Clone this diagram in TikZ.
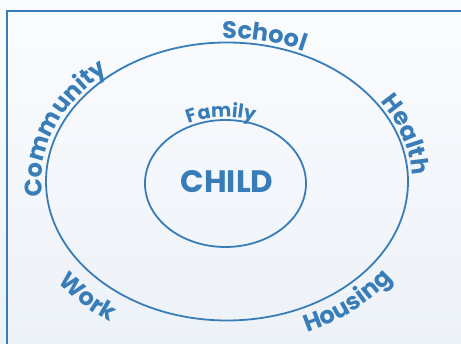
\documentclass[tikz,border=0pt]{standalone}
\usepackage{fontspec}
\usepackage{tikz}
\usetikzlibrary{decorations.text,positioning}
\newfontfamily\ringfamily{Poppins}
\definecolor{ringblue}{RGB}{56,125,184}
\definecolor{paperhi}{RGB}{251,252,254}
\definecolor{paperlo}{RGB}{237,242,248}
\newcommand\ringfont{\ringfamily\bfseries\fontsize{24}{26}\selectfont\color{ringblue}}
\newcommand\famfont{\ringfamily\bfseries\fontsize{19}{21}\selectfont\color{ringblue}}

\begin{document}
\begin{tikzpicture}[
    x=1pt, y=1pt,
    ring/.style={
        draw=ringblue,
        line width=1.8pt
    },
    ringtext/.style={
        decorate,
        decoration={text along path, text align=center, text={#1}}
    },
    core/.style={
        font=\ringfamily\bfseries\fontsize{31}{33}\selectfont,
        text=ringblue
    }
]

% Page and frame
\useasboundingbox (0,0) rectangle (461,344);
\clip (0,0) rectangle (461,344);
\shade[top color=paperhi, bottom color=paperlo] (0,0) rectangle (461,344);
\draw[ringblue, line width=2.2pt] (7,-10) rectangle (475,333);

% Centres of the two rings
\coordinate (outer) at (227,162.5);
\coordinate (inner) at (225.5,160.5);

% Rings
\draw[ring] (outer) ellipse [x radius=181, y radius=139];
\draw[ring] (inner) ellipse [x radius=80.5, y radius=63.5];

% Middle
\node[core] (child) at (227,162) {CHILD};

% Labels round the inner ring
\path[ringtext={|\famfont|Family}]
    (inner) ++(130:83.5 and 66.5) arc[start angle=130, end angle=56, x radius=83.5, y radius=66.5];

% Labels round the outer ring (top half reads clockwise)
\path[ringtext={|\ringfont|School}]
    (outer) ++(107:185 and 143) arc[start angle=107, end angle=49, x radius=185, y radius=143];
\path[ringtext={|\ringfont|Community}]
    (outer) ++(187:185 and 143) arc[start angle=187, end angle=129, x radius=185, y radius=143];
\path[ringtext={|\ringfont|Health}]
    (outer) ++(38:185 and 143) arc[start angle=38, end angle=-2, x radius=185, y radius=143];

% bottom half reads anticlockwise, letters lean in
\path[ringtext={|\ringfont|Housing}]
    (outer) ++(-78:206 and 164) arc[start angle=-78, end angle=-24, x radius=206, y radius=164];
\path[ringtext={|\ringfont|Work}]
    (outer) ++(-154:211 and 169) arc[start angle=-154, end angle=-114, x radius=211, y radius=169];

\end{tikzpicture}
\end{document}
